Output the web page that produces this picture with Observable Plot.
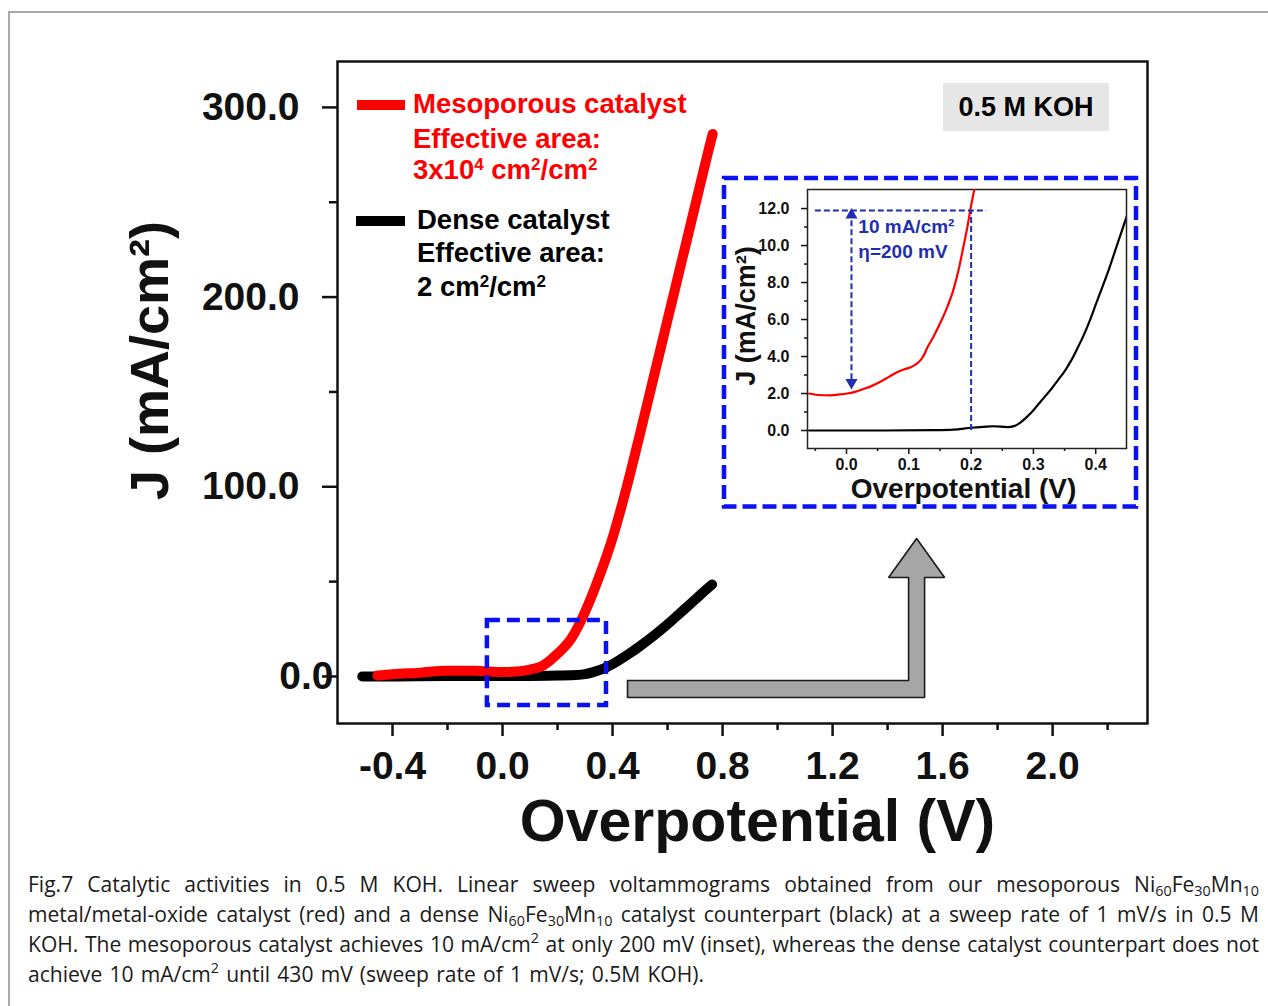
<!DOCTYPE html>
<html><head><meta charset="utf-8">
<script src="https://cdn.jsdelivr.net/npm/d3@7"></script>
<script src="https://cdn.jsdelivr.net/npm/@observablehq/plot@0.6"></script>
<style>
html,body{margin:0;padding:0;background:#fff;}
#page{position:relative;width:1268px;height:1006px;overflow:hidden;font-family:"Liberation Sans",Arial,sans-serif;}
#border{position:absolute;left:8px;top:11px;width:1400px;height:1200px;border-left:2px solid #a9a9a9;border-top:2px solid #a9a9a9;}
#main{position:absolute;left:0;top:0;}
#inset{position:absolute;left:720px;top:175px;}
.lg{position:absolute;font-weight:bold;font-size:27.5px;line-height:28px;white-space:nowrap;}
.lg sup{font-size:0.62em;vertical-align:0.55em;line-height:0;}
.sw{position:absolute;height:10px;}
#koh{position:absolute;left:943px;top:83px;width:166px;height:48px;background:#e6e6e6;font-weight:bold;font-size:27px;line-height:48px;text-align:center;}
#caption{position:absolute;left:28px;top:869px;width:1240px;font-family:"Open Sans",sans-serif;font-size:18.5px;line-height:30px;color:#1a1a1a;}
.capline{height:30px;white-space:nowrap;}
.capline sub{font-size:0.68em;vertical-align:-0.25em;line-height:0;}
.capline sup{font-size:0.68em;vertical-align:0.6em;line-height:0;}
</style></head>
<body><div id="page">
<div id="border"></div>
<div id="main"></div>
<div id="inset"></div>
<div class="sw" style="left:357px;top:100px;width:48px;background:#ff0000"></div>
<div class="lg" style="left:413px;top:90px;color:#ff0000">Mesoporous catalyst</div>
<div class="lg" style="left:413px;top:125px;color:#ff0000">Effective area:</div>
<div class="lg" style="left:413px;top:156px;color:#ff0000">3x10<sup>4</sup> cm<sup>2</sup>/cm<sup>2</sup></div>
<div class="sw" style="left:356px;top:216px;width:49px;background:#000"></div>
<div class="lg" style="left:417px;top:206px;color:#000">Dense catalyst</div>
<div class="lg" style="left:417px;top:239px;color:#000">Effective area:</div>
<div class="lg" style="left:417px;top:273px;color:#000">2 cm<sup>2</sup>/cm<sup>2</sup></div>
<div id="koh">0.5 M KOH</div>
<div id="caption"></div>
</div>
<script>
// ---------- data ----------
const mainMesoV = [-0.455, -0.4, -0.3, -0.2, -0.1, 0.0, 0.05, 0.1, 0.15, 0.2, 0.25, 0.3, 0.35, 0.4, 0.45, 0.5, 0.55, 0.6, 0.65, 0.7, 0.75, 0.764];
const mainMesoJ = [0.5, 1.2, 2.0, 3.0, 3.0, 2.3, 2.6, 3.6, 6.0, 12, 20, 34, 52, 73, 99, 128, 158, 188, 218, 248, 278, 286];
const mainDenseV = [-0.51, -0.4, -0.2, 0.0, 0.1, 0.2, 0.25, 0.3, 0.33, 0.36, 0.4, 0.45, 0.5, 0.55, 0.6, 0.65, 0.7, 0.75, 0.762];
const mainDenseJ = [0, 0, 0.2, 0.2, 0.3, 0.5, 0.6, 1.2, 2.3, 3.7, 6.5, 11, 16, 21.5, 27.5, 34, 40.5, 47, 48.5];

const insetMesoV = [-0.06, -0.045, -0.026, -0.01, 0.001, 0.015, 0.028, 0.04, 0.055, 0.068, 0.081, 0.092, 0.103, 0.11, 0.116, 0.123, 0.13, 0.14, 0.151, 0.162, 0.172, 0.18, 0.188, 0.194, 0.199, 0.205];
const insetMesoJ = [2.0, 1.92, 1.9, 1.95, 2.0, 2.1, 2.25, 2.4, 2.65, 2.9, 3.15, 3.3, 3.42, 3.55, 3.7, 4.0, 4.5, 5.1, 5.85, 6.7, 7.66, 8.7, 10.0, 11.0, 11.98, 13.0];
const insetDenseV = [-0.06, 0.06, 0.14, 0.172, 0.2, 0.22, 0.236, 0.258, 0.27, 0.28, 0.29, 0.30, 0.31, 0.32, 0.33, 0.34, 0.35, 0.36, 0.37, 0.38, 0.39, 0.40, 0.41, 0.42, 0.43, 0.44, 0.45];
const insetDenseJ = [0.0, 0.0, 0.02, 0.05, 0.15, 0.2, 0.23, 0.18, 0.25, 0.45, 0.75, 1.1, 1.5, 1.9, 2.3, 2.75, 3.2, 3.75, 4.4, 5.1, 5.9, 6.8, 7.7, 8.6, 9.6, 10.6, 11.6];

// ticks
const mainXTicks = [-0.4, 0.0, 0.4, 0.8, 1.2, 1.6, 2.0];
const mainXMinor = [-0.2, 0.2, 0.6, 1.0, 1.4, 1.8, 2.2];
const mainYTicks = [100, 200, 300];
const mainYZero = [0];
const mainYMinor = [50, 150, 250];
const insetXTicks = [0.0, 0.1, 0.2, 0.3, 0.4];
const insetXMinor = [-0.05, 0.05, 0.15, 0.25, 0.35];
const insetYTicks = [0, 2, 4, 6, 8, 10, 12];
const insetYMinor = [1, 3, 5, 7, 9, 11];

// annotations (data coordinates)
const zoomBox = [{x1: -0.055, x2: 0.378, y1: -15.3, y2: 29.5}];
const arrowX = [0.4545, 1.4764, 1.4764, 1.4036, 1.5055, 1.6073, 1.5345, 1.5345, 0.4545, 0.4545];
const arrowY = [-2.11, -2.11, 52.19, 52.19, 72.75, 52.19, 52.19, -11.07, -11.07, -2.11];
const target = {j: 11.9, x1: -0.05, x2: 0.225, v: 0.2};
const etaArrow = {x: 0.008, top: 11.9, bottom: 2.34};
const insetNotes = ["10 mA/cm²", "η=200 mV"];
const insetNoteY = [11.03, 9.68];
const insetNoteX = 0.019;

const FONT = "'Liberation Sans', Arial, sans-serif";
const fmt = d => d.toFixed(1);
const BLUE = "#0a12f2";
const NAVY = "#1f2fb0";

const idx = a => a.map((_, i) => i);

// ---------- main chart ----------
const main = Plot.plot({
  width: 1268, height: 860,
  marginLeft: 337, marginRight: 121, marginTop: 61, marginBottom: 137,
  x: {domain: [-0.6, 2.345]},
  y: {domain: [-24.8, 324.2]},
  style: {fontFamily: FONT, fontWeight: "bold", background: "transparent", color: "#111"},
  marks: [
    Plot.axisX({ticks: mainXTicks, tickSize: 13, tickPadding: 15, tickFormat: fmt, fontSize: 39, fontWeight: "bold", strokeWidth: 2.5, label: null}),
    Plot.axisX({ticks: mainXMinor, tickSize: 7, text: null, strokeWidth: 2.5, label: null}),
    Plot.axisY({ticks: mainYTicks, tickSize: 15, tickPadding: 23, tickFormat: fmt, fontSize: 39, fontWeight: "bold", strokeWidth: 2.5, label: null}),
    Plot.axisY({ticks: mainYZero, tickSize: 15, tickPadding: -11, tickFormat: fmt, fontSize: 39, fontWeight: "bold", strokeWidth: 2.5, label: null}),
    Plot.axisY({ticks: mainYMinor, tickSize: 8, text: null, strokeWidth: 2.5, label: null}),
    Plot.frame({stroke: "#111", strokeWidth: 2.5}),
    Plot.line(idx(arrowX), {x: arrowX, y: arrowY, fill: "#a6a6a6", stroke: "#1a1a1a", strokeWidth: 1.6, strokeLinejoin: "miter"}),
    Plot.line(idx(mainDenseV), {x: mainDenseV, y: mainDenseJ, stroke: "#000", strokeWidth: 10, strokeLinecap: "round", strokeLinejoin: "round", curve: "monotone-x"}),
    Plot.line(idx(mainMesoV), {x: mainMesoV, y: mainMesoJ, stroke: "#ff0000", strokeWidth: 10, strokeLinecap: "round", strokeLinejoin: "round", curve: "monotone-x"}),
    Plot.rect(zoomBox, {x1: "x1", x2: "x2", y1: "y1", y2: "y2", fill: "none", stroke: BLUE, strokeWidth: 4.5, strokeDasharray: "13,7"}),
    Plot.text(["Overpotential (V)"], {frameAnchor: "bottom", lineAnchor: "middle", dx: 15, dy: 99, fontSize: 59, fontWeight: "bold", fill: "#111"}),
    Plot.text(["J (mA/cm²)"], {frameAnchor: "left", textAnchor: "middle", lineAnchor: "middle", rotate: -90, dx: -187, dy: -32, fontSize: 54, fontWeight: "bold", fill: "#111"})
  ]
});
document.getElementById("main").appendChild(main);

// ---------- inset ----------
const inset = Plot.plot({
  width: 420, height: 335,
  marginLeft: 87, marginRight: 14, marginTop: 14, marginBottom: 62,
  x: {domain: [-0.0626, 0.4494]},
  y: {domain: [-0.973, 13.03]},
  style: {fontFamily: FONT, fontWeight: "bold", background: "transparent", color: "#111", overflow: "visible"},
  marks: [
    Plot.axisX({ticks: insetXTicks, tickSize: 6, tickPadding: 4, tickFormat: fmt, fontSize: 16, fontWeight: "bold", strokeWidth: 1.5, label: null}),
    Plot.axisX({ticks: insetXMinor, tickSize: 3, text: null, strokeWidth: 1.5, label: null}),
    Plot.axisY({ticks: insetYTicks, tickSize: 6, tickPadding: 12, tickFormat: fmt, fontSize: 16, fontWeight: "bold", strokeWidth: 1.5, label: null}),
    Plot.axisY({ticks: insetYMinor, tickSize: 3, text: null, strokeWidth: 1.5, label: null}),
    Plot.frame({stroke: "#222", strokeWidth: 1.5}),
    Plot.line(idx(insetDenseV), {x: insetDenseV, y: insetDenseJ, stroke: "#000", strokeWidth: 2.2, curve: "monotone-x", clip: true}),
    Plot.line(idx(insetMesoV), {x: insetMesoV, y: insetMesoJ, stroke: "#ff0000", strokeWidth: 2.2, curve: "monotone-x", clip: true}),
    Plot.ruleY([target.j], {x1: target.x1, x2: target.x2, stroke: NAVY, strokeWidth: 2, strokeDasharray: "6,3"}),
    Plot.ruleX([target.v], {y1: 0, y2: target.j, stroke: NAVY, strokeWidth: 2, strokeDasharray: "6,3"}),
    Plot.ruleX([etaArrow.x], {y1: etaArrow.bottom + 0.4, y2: etaArrow.top - 0.4, stroke: NAVY, strokeWidth: 2, strokeDasharray: "6,3"}),
    Plot.dot([etaArrow.top - 0.25], {x: etaArrow.x, y: d => d, symbol: "triangle", r: 4.5, fill: NAVY, stroke: "none"}),
    Plot.dot([etaArrow.bottom + 0.25], {x: etaArrow.x, y: d => d, symbol: "triangle", rotate: 180, r: 4.5, fill: NAVY, stroke: "none"}),
    Plot.text(insetNotes, {x: insetNoteX, y: (d, i) => insetNoteY[i], text: d => d, textAnchor: "start", fontSize: 19, fontWeight: "bold", fill: NAVY}),
    Plot.text(["Overpotential (V)"], {frameAnchor: "bottom", lineAnchor: "middle", dx: -3.5, dy: 41, fontSize: 28, fontWeight: "bold", fill: "#111"}),
    Plot.text(["J (mA/cm²)"], {frameAnchor: "left", textAnchor: "middle", lineAnchor: "middle", rotate: -90, dx: -61, dy: -3, fontSize: 27, fontWeight: "bold", fill: "#111"})
  ]
});
d3.select(inset).append("rect")
  .attr("x", 4).attr("y", 3).attr("width", 412).attr("height", 328.5)
  .attr("fill", "none").attr("stroke", BLUE).attr("stroke-width", 4.5)
  .attr("stroke-dasharray", "14,6");
document.getElementById("inset").appendChild(inset);

// ---------- caption ----------
const captionLines = [
  "Fig.7 Catalytic activities in 0.5 M KOH. Linear sweep voltammograms obtained from our mesoporous Ni<sub>60</sub>Fe<sub>30</sub>Mn<sub>10</sub>",
  "metal/metal-oxide catalyst (red) and a dense Ni<sub>60</sub>Fe<sub>30</sub>Mn<sub>10</sub> catalyst counterpart (black) at a sweep rate of 1 mV/s in 0.5 M",
  "KOH. The mesoporous catalyst achieves 10 mA/cm<sup>2</sup> at only 200 mV (inset), whereas the dense catalyst counterpart does not",
  "achieve 10 mA/cm<sup>2</sup> until 430 mV (sweep rate of 1 mV/s; 0.5M KOH)."
];
const captionWidths = [1231, 1231, 1231, 676];
const cap = document.getElementById("caption");
const spans = captionLines.map(html => {
  const div = document.createElement("div");
  div.className = "capline";
  const span = document.createElement("span");
  span.style.display = "inline-block";
  span.style.whiteSpace = "nowrap";
  span.innerHTML = html;
  div.appendChild(span);
  cap.appendChild(div);
  return span;
});
// choose a font size so the widest justified line just fits
const base = 18.5;
const ratio = Math.min(...spans.slice(0, 3).map((s, i) => captionWidths[i] / s.getBoundingClientRect().width));
cap.style.fontSize = (base * ratio * 0.985) + "px";
spans.forEach((span, i) => {
  const w = span.getBoundingClientRect().width;
  const t = captionWidths[i];
  const spaces = (span.textContent.match(/ /g) || []).length;
  if (w < t) {
    span.style.wordSpacing = ((t - w) / spaces) + "px";
  } else {
    span.style.transformOrigin = "0 0";
    span.style.transform = `scaleX(${t / w})`;
  }
});
</script>
</body></html>
